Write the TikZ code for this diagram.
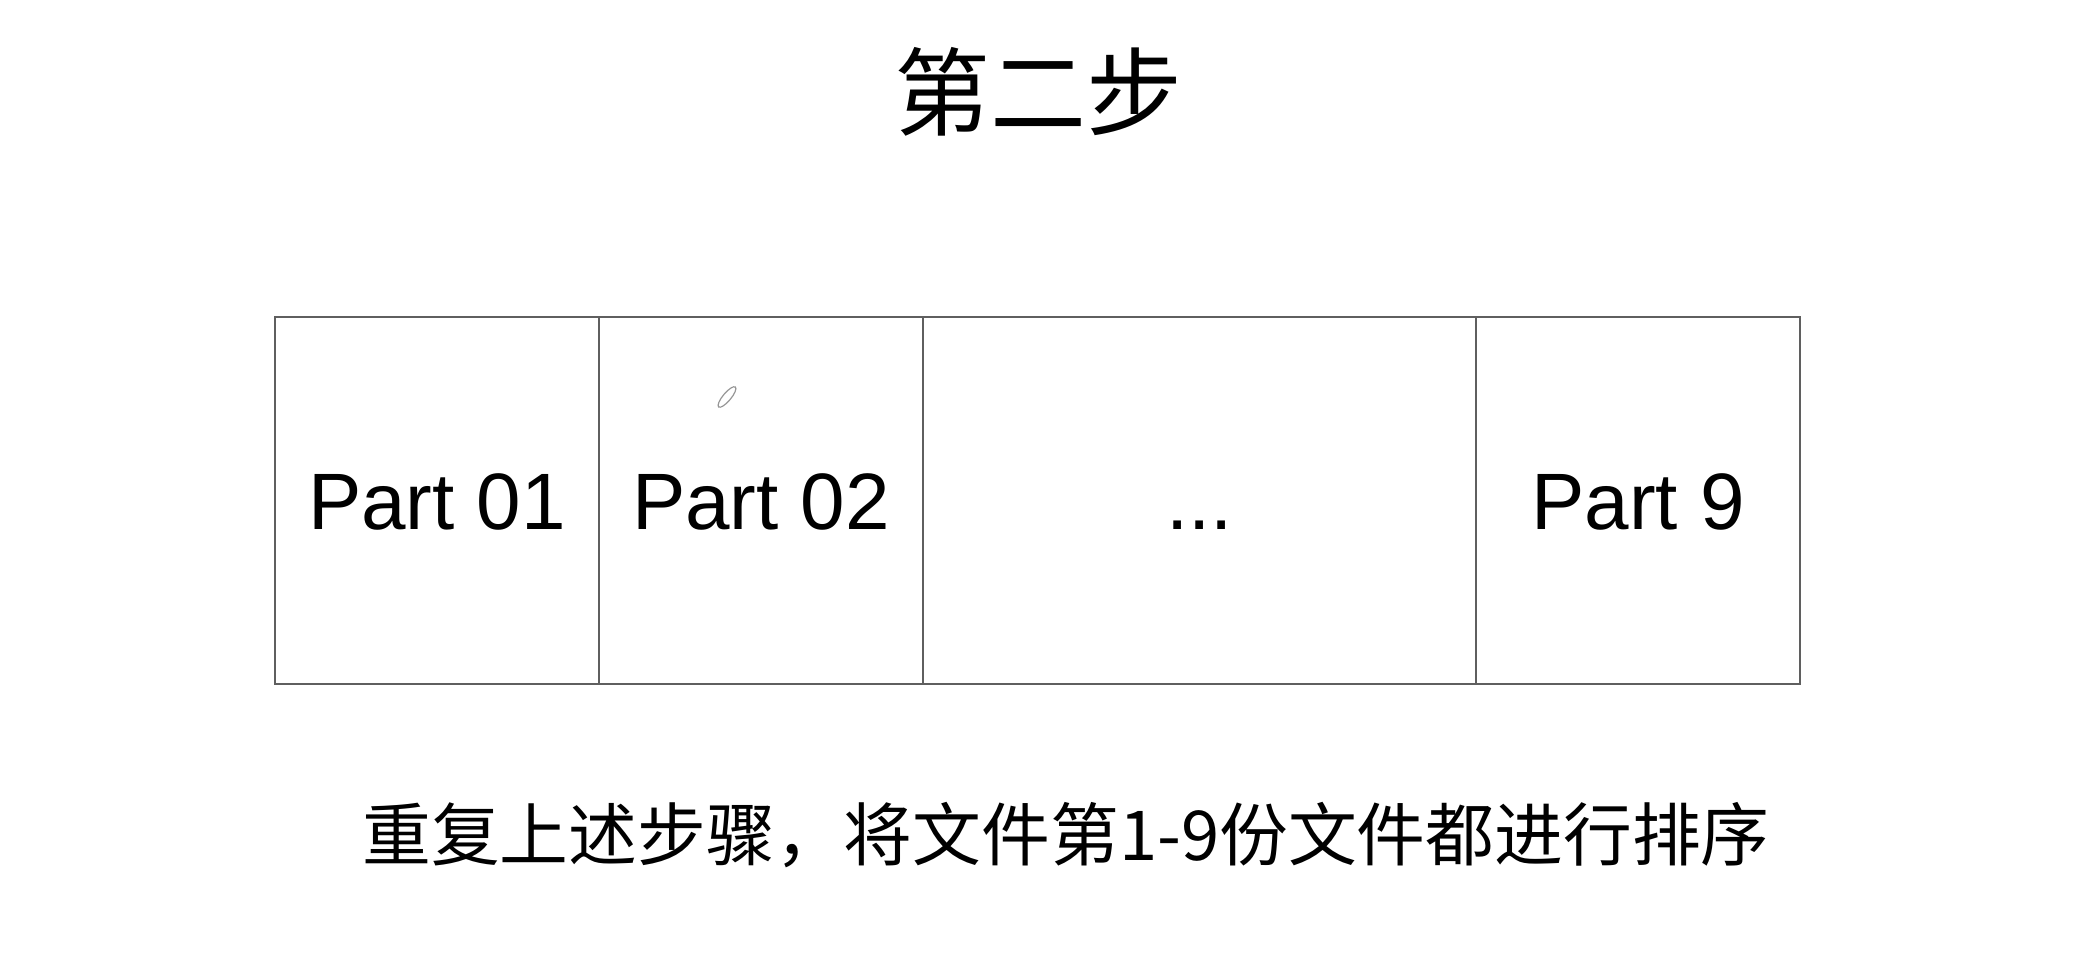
\documentclass[tikz,border=0pt]{standalone}
\usepackage{fontspec}
\setmainfont{Liberation Sans}
\newfontfamily\cjk{Noto Sans CJK SC}
\usetikzlibrary{positioning}
\definecolor{cellgray}{RGB}{95,95,95}
\definecolor{markgray}{RGB}{150,150,150}

\begin{document}
\begin{tikzpicture}[x=.5pt,y=.5pt,
  cell/.style={draw=cellgray,line width=1.3pt,inner sep=0pt,outer sep=0pt,
    text height=28.6pt,text depth=0pt,
    minimum height=183.5pt,minimum width=162pt,font=\fontsize{40}{48}\selectfont}]
  \useasboundingbox (0,0) rectangle (2074,970);
  \node[font=\cjk\fontsize{48}{56}\selectfont] (title) at (1038,878) {第二步};
  \node[cell] (part1) at (437,469.5) {Part 01};
  \node[cell,right=0pt of part1] (part2) {Part 02};
  \node[cell,right=0pt of part2,minimum width=276.5pt] (dots) {...};
  \node[cell,right=0pt of dots] (part9) {Part 9};
  \draw[markgray,line width=.6pt] (727,573) ellipse [x radius=13,y radius=4,rotate=50];
  \node[font=\cjk\fontsize{34.4}{40}\selectfont] (note) at (1066,135)
    {重复上述步骤，将文件第1-9份文件都进行排序};
\end{tikzpicture}
\end{document}
